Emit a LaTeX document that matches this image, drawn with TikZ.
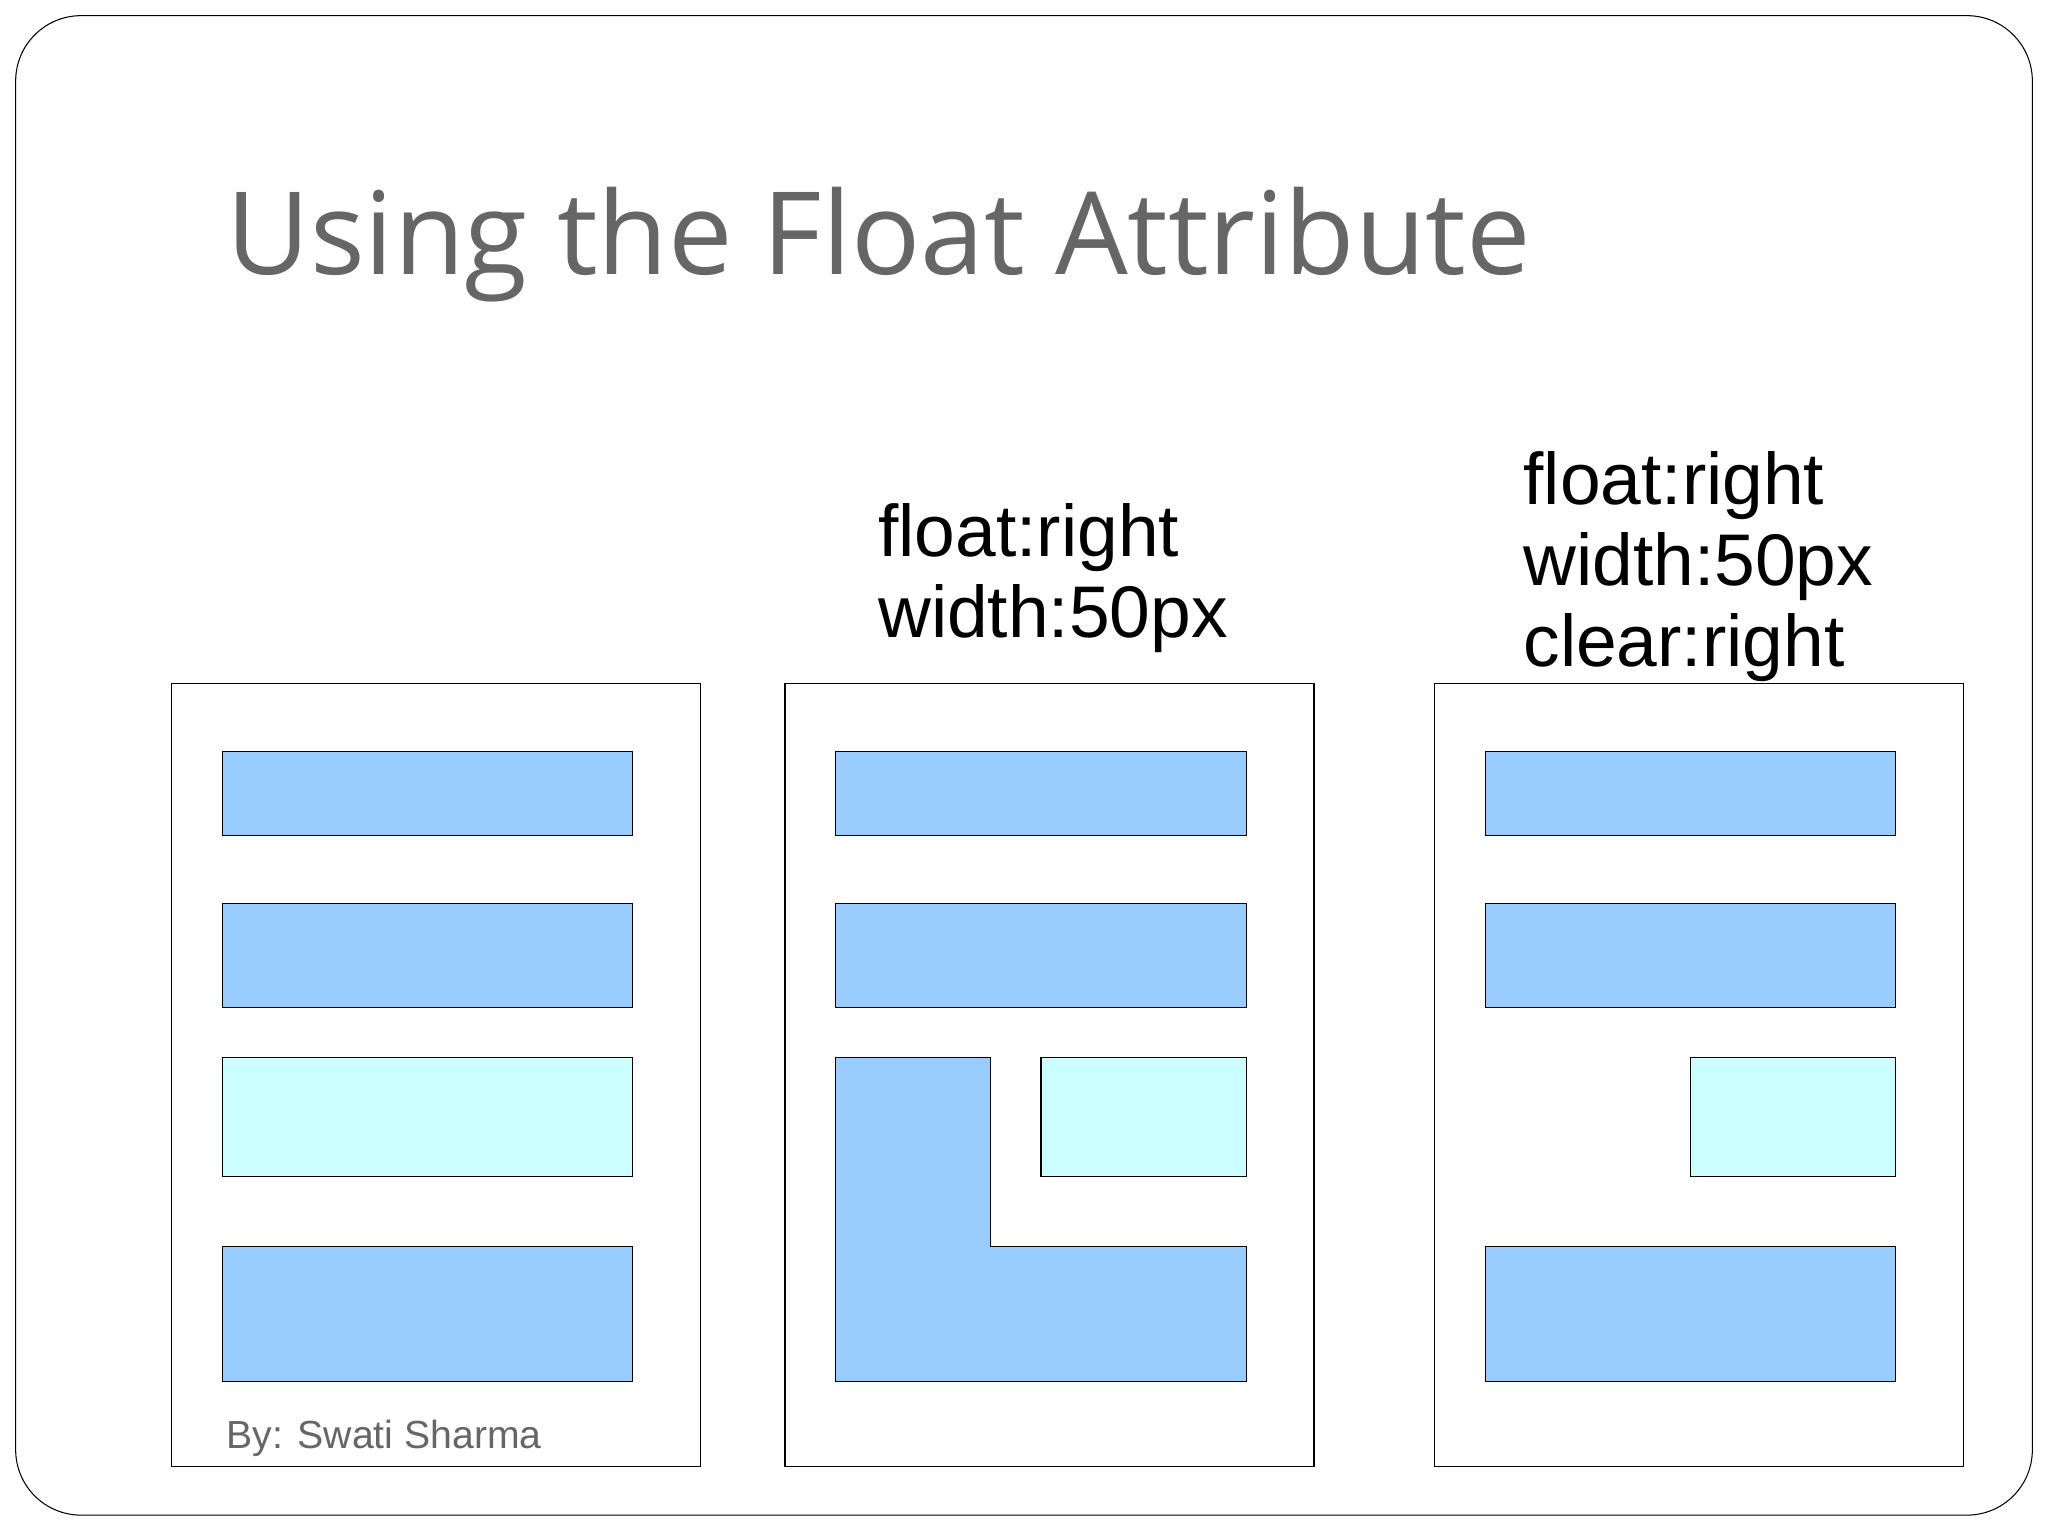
\documentclass[tikz,border=0pt]{standalone}
\usepackage{fontspec}
\setmainfont{Liberation Sans}
\newfontfamily\titlefont{Open Sans}
\usetikzlibrary{positioning}
\definecolor{boxblue}{HTML}{99CCFF}
\definecolor{boxcyan}{HTML}{CCFFFF}
\definecolor{titlegray}{HTML}{666666}
\tikzset{
  panel/.style={draw=black,thin,fill=white},
  bluebox/.style={draw=black,thin,fill=boxblue},
  cyanbox/.style={draw=black,thin,fill=boxcyan},
  label/.style={anchor=north west,inner sep=0pt,align=left,font=\fontsize{28}{31}\selectfont}
}
\begin{document}
\begin{tikzpicture}[x=0.5pt,y=-0.5pt]
    \useasboundingbox (0,0) rectangle (1568,1176);
    \draw[rounded corners=25pt,thin] (12,12) rectangle (1556,1160);
    \node[anchor=base west,inner sep=0pt,text=titlegray,font=\titlefont\fontsize{44}{50}\selectfont] (title) at (173,210) {Using the Float Attribute};

    % left panel
    \draw[panel] (131,523) rectangle (536,1123);
    \draw[bluebox] (170,575) rectangle (484,640);
    \draw[bluebox] (170,692) rectangle (484,771);
    \draw[cyanbox] (170,810) rectangle (484,901);
    \draw[bluebox] (170,954) rectangle (484,1058);
    \node[anchor=base west,inner sep=0pt,text=titlegray,font=\fontsize{15}{18}\selectfont] (author) at (173,1109) {By: Swati Sharma};

    % middle panel
    \draw[panel] (601,523) rectangle (1006,1123);
    \draw[bluebox] (640,575) rectangle (954,640);
    \draw[bluebox] (640,692) rectangle (954,771);
    \draw[bluebox] (640,810) -- (758,810) -- (758,954) -- (954,954) -- (954,1058) -- (640,1058) -- cycle;
    \draw[cyanbox] (797,810) rectangle (954,901);
    \node[label] (midtext) at (672,385) {float:right\\width:50px};

    % right panel
    \draw[panel] (1098,523) rectangle (1503,1123);
    \draw[bluebox] (1137,575) rectangle (1451,640);
    \draw[bluebox] (1137,692) rectangle (1451,771);
    \draw[cyanbox] (1294,810) rectangle (1451,901);
    \draw[bluebox] (1137,954) rectangle (1451,1058);
    \node[label] (righttext) at (1166,345) {float:right\\width:50px\\clear:right};
\end{tikzpicture}
\end{document}
